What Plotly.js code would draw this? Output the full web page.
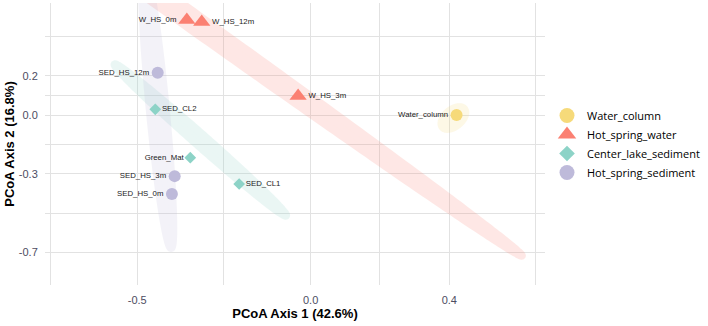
<!DOCTYPE html>
<html>
<head>
<meta charset="utf-8">
<script src="https://cdn.plot.ly/plotly-3.0.1.min.js"></script>
<style>
  html, body { margin: 0; padding: 0; background: #ffffff; }
  #chart { width: 708px; height: 326px; }
</style>
</head>
<body>
<div id="chart"></div>
<script>
// Sample groups, in legend order
const groupNames = ['Water_column', 'Hot_spring_water', 'Center_lake_sediment', 'Hot_spring_sediment'];
const groupColors = ['#F6DA7A', '#FB8072', '#8DD3C7', '#BEBADA'];
const groupSymbols = ['circle', 'triangle-up', 'diamond', 'circle'];
const groupMarkerSizes = [12, 15, 9, 12];
const legendMarkerSizes = [15, 17, 12, 15];

// PCoA sample scores
const sampleLabels = ['Water_column', 'W_HS_0m', 'W_HS_12m', 'W_HS_3m', 'SED_CL2', 'Green_Mat', 'SED_CL1', 'SED_HS_12m', 'SED_HS_3m', 'SED_HS_0m'];
const sampleGroup = [0, 1, 1, 1, 2, 2, 2, 3, 3, 3];
const pcoaAxis1 = [0.421, -0.357, -0.314, -0.036, -0.448, -0.347, -0.206, -0.441, -0.392, -0.400];
const pcoaAxis2 = [0.000, 0.483, 0.473, 0.097, 0.029, -0.217, -0.351, 0.215, -0.311, -0.402];
const labelSide = ['middle left', 'middle left', 'middle right', 'middle right', 'middle right', 'middle left', 'middle right', 'middle left', 'middle left', 'middle left'];

// Group ellipses: centre and two conjugate semi-axis vectors (axis units)
const ellCenterX = [0.4118, -0.4448, -0.318, -0.441];
const ellCenterY = [-0.0153, 0.610, -0.127, 0.0326];
const ellAxisAX = [0.031, 1.054, 0.2471, 0.0386];
const ellAxisAY = [0.0456, -1.326, -0.3847, -0.7092];
const ellAxisBX = [0.0147, -0.01331, -0.01043, -0.02288];
const ellAxisBY = [-0.0313, -0.0332, -0.02104, -0.0039];

// Axis breaks (labelled and unlabelled grid positions)
const xTickVals = [-0.75, -0.5, -0.25, 0, 0.2, 0.4, 0.65];
const xTickText = ['', '-0.5', '', '0.0', '', '0.4', ''];
const yTickVals = [-0.7, -0.5, -0.3, -0.15, 0, 0.1, 0.2, 0.4];
const yTickText = ['-0.7', '', '-0.3', '', '0.0', '', '0.2', ''];

const traces = [];

// Translucent ellipse bands behind the points
groupNames.forEach((g, gi) => {
  const ex = [], ey = [];
  const n = 180;
  for (let k = 0; k <= n; k++) {
    const t = 2 * Math.PI * k / n;
    ex.push(ellCenterX[gi] + ellAxisAX[gi] * Math.cos(t) + ellAxisBX[gi] * Math.sin(t));
    ey.push(ellCenterY[gi] + ellAxisAY[gi] * Math.cos(t) + ellAxisBY[gi] * Math.sin(t));
  }
  traces.push({
    type: 'scatter', mode: 'lines', x: ex, y: ey,
    fill: 'toself', fillcolor: groupColors[gi],
    line: { color: groupColors[gi], width: 8, shape: 'spline', smoothing: 0.6 },
    opacity: 0.18, hoverinfo: 'skip', showlegend: false
  });
});

// Sample points with their labels
groupNames.forEach((g, gi) => {
  const idx = sampleGroup.map((s, i) => s === gi ? i : -1).filter(i => i >= 0);
  traces.push({
    type: 'scatter', mode: 'markers+text',
    x: idx.map(i => pcoaAxis1[i]), y: idx.map(i => pcoaAxis2[i]),
    text: idx.map(i => sampleLabels[i]),
    textposition: idx.map(i => labelSide[i]),
    textfont: { family: 'Liberation Sans, Arial, sans-serif', size: 7.8, color: '#1a1a1a' },
    marker: { color: groupColors[gi], symbol: groupSymbols[gi], size: groupMarkerSizes[gi], line: { width: 0 } },
    cliponaxis: false, showlegend: false, name: g
  });
});

// Legend entries
groupNames.forEach((g, gi) => {
  traces.push({
    type: 'scatter', mode: 'markers', x: [null], y: [null], name: g,
    marker: { color: groupColors[gi], symbol: groupSymbols[gi], size: legendMarkerSizes[gi], line: { width: 0 } },
    showlegend: true
  });
});

const gridColor = '#E2E2E2';
const tickFont = { family: 'Liberation Sans, Arial, sans-serif', size: 11, color: '#4D4D62' };

const layout = {
  width: 708, height: 326,
  margin: { l: 45, r: 161, t: 3, b: 41, pad: 0 },
  paper_bgcolor: '#ffffff', plot_bgcolor: '#ffffff',
  showlegend: true,
  legend: {
    x: 1.004, xanchor: 'left', y: 0.5, yanchor: 'middle',
    font: { family: 'Open Sans, sans-serif', size: 11, color: '#000000' },
    bgcolor: 'rgba(0,0,0,0)', itemsizing: 'trace', tracegroupgap: 0
  },
  xaxis: {
    range: [-0.766, 0.676], tickmode: 'array', tickvals: xTickVals, ticktext: xTickText,
    showgrid: true, gridcolor: gridColor, gridwidth: 1, zeroline: false, showline: false,
    ticks: 'outside', ticklen: 5, tickcolor: 'rgba(0,0,0,0)', tickfont: tickFont,
    title: { text: 'PCoA Axis 1 (42.6%)', standoff: 3, font: { family: 'Liberation Sans, Arial, sans-serif', size: 13, color: '#000000', weight: 'bold' } },
    automargin: false, fixedrange: true
  },
  yaxis: {
    range: [-0.865, 0.570], tickmode: 'array', tickvals: yTickVals, ticktext: yTickText,
    showgrid: true, gridcolor: gridColor, gridwidth: 1, zeroline: false, showline: false,
    ticks: 'outside', ticklen: 4, tickcolor: 'rgba(0,0,0,0)', tickfont: tickFont,
    title: { text: 'PCoA Axis 2 (16.8%)', standoff: 1, font: { family: 'Liberation Sans, Arial, sans-serif', size: 13, color: '#000000', weight: 'bold' } },
    automargin: false, fixedrange: true
  }
};

Plotly.newPlot('chart', traces, layout, { displayModeBar: false, staticPlot: true });
</script>
</body>
</html>
